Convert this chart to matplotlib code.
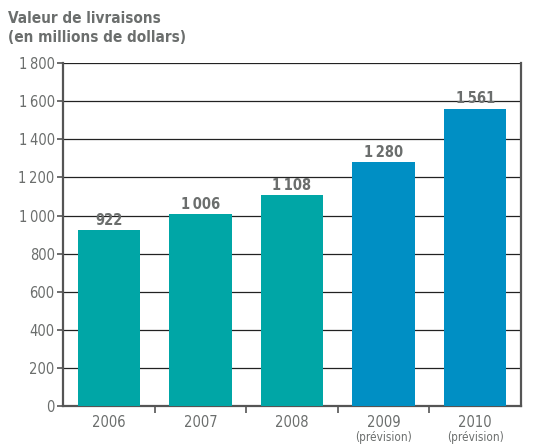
import matplotlib
matplotlib.use("Agg")
import matplotlib.pyplot as plt

years = ["2006", "2007", "2008", "2009", "2010"]
notes = ["", "", "", "(prévision)", "(prévision)"]
values = [922, 1006, 1108, 1280, 1561]
colors = ["#00a6a6", "#00a6a6", "#00a6a6", "#008fc4", "#008fc4"]

grey = "#6b6e6d"
plt.rcParams["font.family"] = ["DejaVu Sans"]
plt.rcParams["font.stretch"] = "condensed"


def fmt(v):
    return f"{v:,}".replace(",", "\u2009")


fig = plt.figure(figsize=(5.36, 4.45), dpi=100)
ax = fig.add_axes([0.1175, 0.0876, 0.8545, 0.7706])

x = list(range(len(years)))
ax.bar(x, values, width=0.68, color=colors, zorder=3)

for xi, v in zip(x, values):
    ax.text(xi, v + 12, fmt(v), ha="center", va="bottom", fontsize=10.5,
            fontweight="bold", color=grey)

ax.set_xlim(-0.5, 4.5)
ax.set_ylim(0, 1800)
yt = list(range(0, 1801, 200))
ax.set_yticks(yt)
ax.set_yticklabels([fmt(v) for v in yt], fontsize=10.5, color=grey)
ax.yaxis.grid(True, color="#222222", linewidth=0.9, zorder=1)

ax.set_xticks([0.5, 1.5, 2.5, 3.5])
ax.set_xticklabels([])
ax.tick_params(axis="x", length=5, width=1.2, color="#555555")
ax.tick_params(axis="y", length=4, width=1.2, color="#555555", pad=2)

for xi, yr, note in zip(x, years, notes):
    ax.text(xi, -0.025, yr, transform=ax.get_xaxis_transform(), ha="center",
            va="top", fontsize=10.5, color=grey)
    if note:
        ax.text(xi, -0.072, note, transform=ax.get_xaxis_transform(),
                ha="center", va="top", fontsize=8.5, color=grey)

for side in ["left", "bottom", "right"]:
    ax.spines[side].set_color("#555555")
    ax.spines[side].set_linewidth(1.6)
ax.spines["top"].set_visible(False)

fig.text(0.015, 0.975, "Valeur de livraisons\n(en millions de dollars)",
         ha="left", va="top", fontsize=11, fontweight="bold", color=grey,
         linespacing=1.3)

fig.savefig("out.png", dpi=100)
